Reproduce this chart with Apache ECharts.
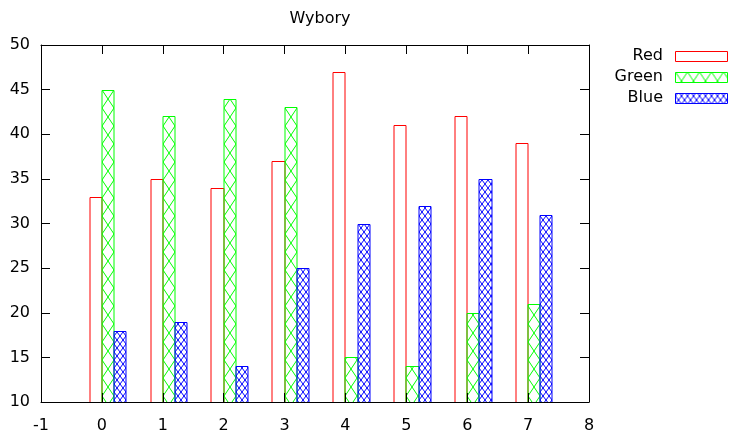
<!DOCTYPE html>
<html>
<head>
<meta charset="utf-8">
<script src="https://cdn.jsdelivr.net/npm/echarts@6/dist/echarts.min.js"></script>
<style>
  html, body { margin: 0; padding: 0; background: #fff; }
  #chart { width: 729px; height: 435px; }
</style>
</head>
<body>
<div id="chart"></div>
<script>
// Election results per round: three parties, eight rounds (0..7)
const categories = [0, 1, 2, 3, 4, 5, 6, 7];
const seriesNames = ['Red', 'Green', 'Blue'];
const redValues = [33, 35, 34, 37, 47, 41, 42, 39];
const greenValues = [45, 42, 44, 43, 15, 14, 20, 21];
const blueValues = [18, 19, 14, 25, 30, 32, 35, 31];
const yTicks = [10, 15, 20, 25, 30, 35, 40, 45, 50];
const xTicks = [-1, 0, 1, 2, 3, 4, 5, 6, 7, 8];

const FONT = 'DejaVu Sans, sans-serif';

// Hatch tile: both diagonals across a w x h cell
function hatch(color, w, h) {
  const c = document.createElement('canvas');
  c.width = w; c.height = h;
  const g = c.getContext('2d');
  g.strokeStyle = color;
  g.lineWidth = 1;
  g.beginPath();
  g.moveTo(0, 0); g.lineTo(w, h);
  g.moveTo(w, 0); g.lineTo(0, h);
  g.stroke();
  return c;
}

const styles = [
  { stroke: 'rgb(255,0,0)', fill: null },
  { stroke: 'rgb(0,255,0)', fill: { image: hatch('rgb(0,255,0)', 12, 18), repeat: 'repeat' } },
  { stroke: 'rgb(0,0,255)', fill: { image: hatch('rgb(0,0,255)', 6, 8), repeat: 'repeat' } }
];

// Clustered bars: width 0.2 each, offsets within a cluster
const boxWidth = 0.2;
const offsets = [-0.1, 0.1, 0.3];
const valueSets = [redValues, greenValues, blueValues];

// A box drawn as a hatch-filled rect (hatch anchored at its left edge) plus an outline
function boxElements(x0, y0, x1, y1, st, closed) {
  const children = [];
  if (st.fill) {
    children.push({
      type: 'rect', silent: true, x: x0, y: 0,
      shape: { x: 0, y: y0, width: x1 - x0, height: y1 - y0 },
      style: { fill: st.fill, stroke: null }
    });
  }
  const pts = [[x0, y1], [x0, y0], [x1, y0], [x1, y1]];
  if (closed) pts.push([x0, y1]);
  children.push({
    type: 'polyline', silent: true,
    shape: { points: pts },
    style: { fill: null, stroke: st.stroke, lineWidth: 1 }
  });
  return children;
}

function barSeries(idx) {
  return {
    type: 'custom',
    name: seriesNames[idx],
    xAxisIndex: 0,
    yAxisIndex: 0,
    z: 1,
    data: categories.map((c, i) => [c, valueSets[idx][i]]),
    renderItem: function (params, api) {
      const x = api.value(0) + offsets[idx];
      const v = api.value(1);
      const p0 = api.coord([x - boxWidth / 2, v]);
      const p1 = api.coord([x + boxWidth / 2, yTicks[0]]);
      const x0 = Math.round(p0[0]), x1 = Math.round(p1[0]);
      const y0 = Math.round(p0[1]) + 0.5, y1 = Math.round(p1[1]);
      return { type: 'group', children: boxElements(x0, y0, x1, y1, styles[idx], false) };
    }
  };
}

const axisCommon = {
  z: 3,
  axisLine: { show: true, onZero: false, lineStyle: { color: '#000', width: 1 } },
  axisTick: { show: true, inside: true, length: 9, lineStyle: { color: '#000', width: 1 } },
  splitLine: { show: false }
};

const chart = echarts.init(document.getElementById('chart'), null, { renderer: 'canvas' });

// Legend rows: label right-aligned, key box to its right
const legendGraphics = [];
seriesNames.forEach((name, i) => {
  const cy = 57 + i * 21;
  legendGraphics.push({
    type: 'text', right: 729 - 663, top: cy - 9,
    style: { text: name, font: '16px ' + FONT, fill: '#000', textAlign: 'right' }
  });
  boxElements(675.5, cy - 5.5, 727.5, cy + 4.5, styles[i], true).forEach(el => legendGraphics.push(el));
});

chart.setOption({
  animation: false,
  backgroundColor: '#fff',
  title: {
    text: 'Wybory', left: 315, top: 6, textAlign: 'center',
    textStyle: { fontFamily: FONT, fontSize: 16, fontWeight: 'normal', color: '#000' }
  },
  grid: { left: 41, right: 140, top: 45, bottom: 33, containLabel: false, outerBoundsMode: 'none' },
  xAxis: [
    Object.assign({
      type: 'value', position: 'bottom', min: xTicks[0], max: xTicks[xTicks.length - 1], interval: 1,
      axisLabel: { color: '#000', fontFamily: FONT, fontSize: 16, margin: 16 }
    }, axisCommon),
    Object.assign({
      type: 'value', position: 'top', min: xTicks[0], max: xTicks[xTicks.length - 1], interval: 1,
      axisLabel: { show: false }
    }, axisCommon)
  ],
  yAxis: [
    Object.assign({
      type: 'value', position: 'left', min: yTicks[0], max: yTicks[yTicks.length - 1], interval: 5,
      axisLabel: { color: '#000', fontFamily: FONT, fontSize: 16, margin: 11 }
    }, axisCommon),
    Object.assign({
      type: 'value', position: 'right', min: yTicks[0], max: yTicks[yTicks.length - 1], interval: 5,
      axisLabel: { show: false }
    }, axisCommon)
  ],
  series: [barSeries(0), barSeries(1), barSeries(2)],
  graphic: legendGraphics
});
</script>
</body>
</html>
